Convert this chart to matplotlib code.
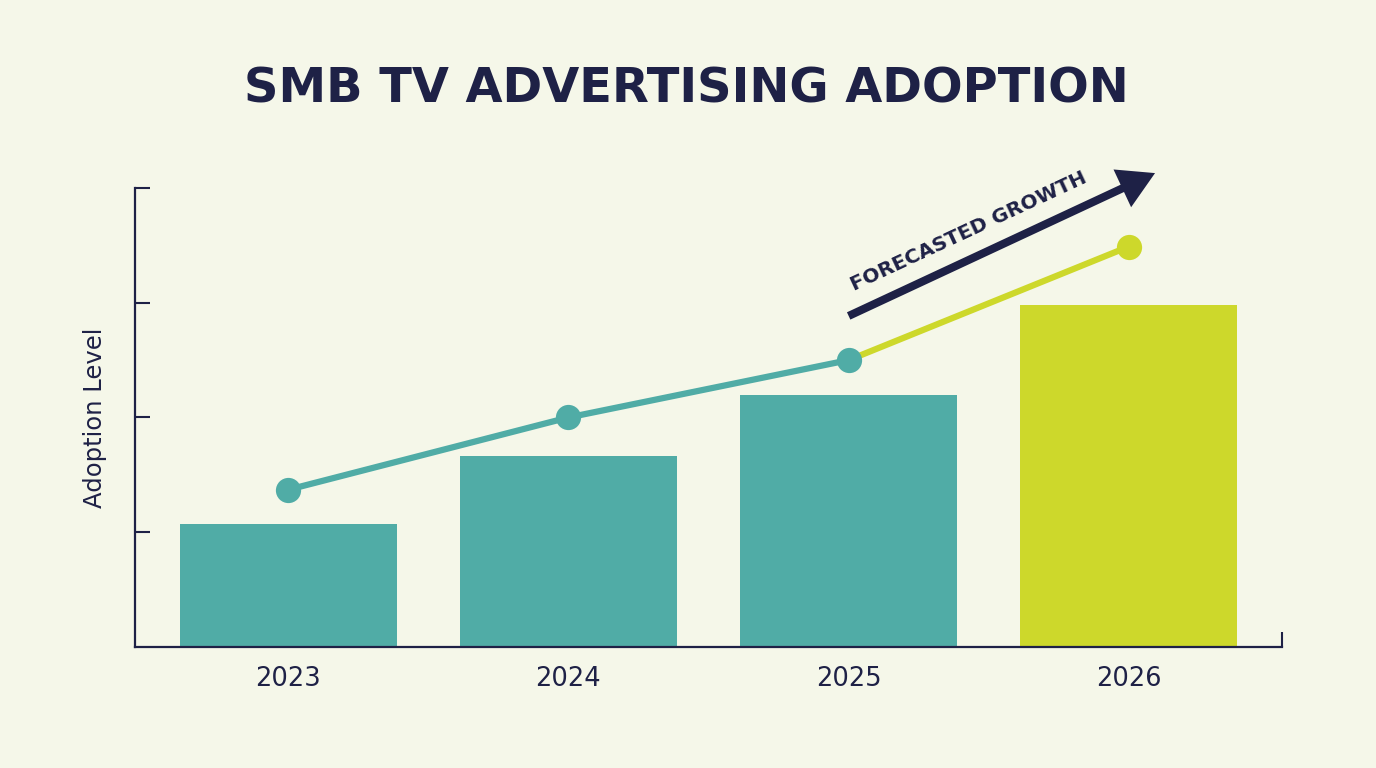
import numpy as np
import matplotlib
matplotlib.use("Agg")
import matplotlib.pyplot as plt
from matplotlib.patches import FancyArrowPatch

# ── Colors
C = {
    "bg": "#f5f7e9", "teal": "#50aca6", "lime": "#cdd82b", "navy": "#1e2146",
}

# ── Data
years = ["2023", "2024", "2025", "2026"]
bar_values = [1.07, 1.66, 2.20, 2.98]
line_values = [1.37, 2.00, 2.50, 3.49]
forecast_from = 2  # index where forecast segment starts

plt.rcParams["font.family"] = ["DejaVu Sans"]

fig = plt.figure(figsize=(13.76, 7.68), dpi=100)
fig.patch.set_facecolor(C["bg"])
ax = fig.add_axes([0.0981, 0.1576, 0.8336, 0.5976])
ax.set_facecolor(C["bg"])

x = np.arange(len(years))
bar_colors = [C["teal"] if i <= forecast_from else C["lime"] for i in range(len(years))]
ax.bar(x, bar_values, width=0.774, color=bar_colors, zorder=2)

# actual trend line + forecast segment
ax.plot(x[:forecast_from + 1], line_values[:forecast_from + 1], color=C["teal"], lw=4.5,
        solid_capstyle="round", zorder=3)
ax.plot(x[forecast_from:], line_values[forecast_from:], color=C["lime"], lw=4.5,
        solid_capstyle="round", zorder=3)
ax.scatter(x[:forecast_from + 1], line_values[:forecast_from + 1], s=330, color=C["teal"], zorder=4,
           linewidths=0)
ax.scatter(x[forecast_from + 1:], line_values[forecast_from + 1:], s=330, color=C["lime"], zorder=4,
           linewidths=0)

# forecast arrow
arrow = FancyArrowPatch((2.0, 2.885), (3.093, 4.13),
                        arrowstyle="simple,head_length=26,head_width=30,tail_width=5.8",
                        color=C["navy"], lw=0, clip_on=False, shrinkA=0, shrinkB=0, zorder=5)
ax.add_patch(arrow)
ax.text(2.43, 3.62, "FORECASTED GROWTH", rotation=25, ha="center", va="center",
        fontsize=14.5, fontweight="bold", color=C["navy"], clip_on=False)

ax.set_xlim(-0.546, 3.546)
ax.set_ylim(0, 4)
ax.set_xticks(x)
ax.set_xticklabels(years, fontsize=18.5, color=C["navy"])
ax.tick_params(axis="x", length=0, pad=14)
ax.set_xticks([3.546], minor=True)
ax.tick_params(axis="x", which="minor", direction="in", length=11, width=1.5, color=C["navy"])
ax.set_yticks([1, 2, 3, 4])
ax.set_yticklabels([])
ax.tick_params(axis="y", direction="in", length=11, width=1.5, color=C["navy"])
ax.set_ylabel("Adoption Level", fontsize=17.5, color=C["navy"], labelpad=17)

for s in ("top", "right"):
    ax.spines[s].set_visible(False)
for s in ("left", "bottom"):
    ax.spines[s].set_color(C["navy"])
    ax.spines[s].set_linewidth(1.6)

fig.text(0.4985, 0.884, "SMB TV ADVERTISING ADOPTION", ha="center", va="center",
         fontsize=34.5, fontweight="bold", color=C["navy"])

fig.savefig("out.png", dpi=100, facecolor=fig.get_facecolor())
